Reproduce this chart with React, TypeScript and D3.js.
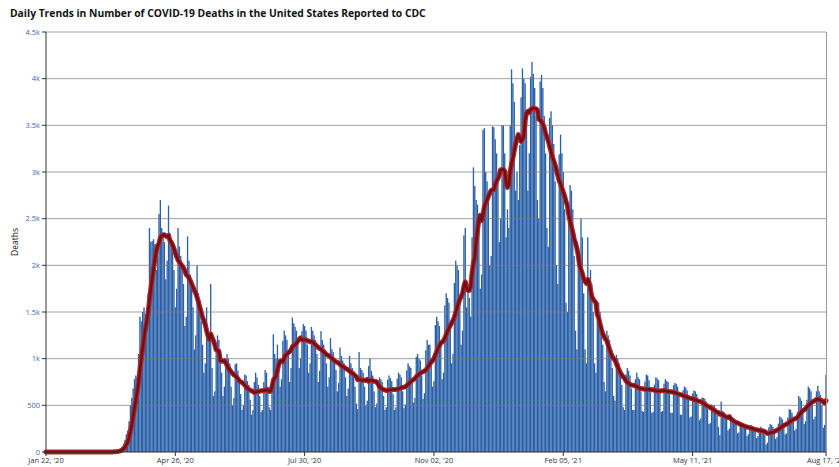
import React from "react";
import * as d3 from "d3";

const title = "Daily Trends in Number of COVID-19 Deaths in the United States Reported to CDC";
const yAxisTitle = "Deaths";
const startDate = "2020-01-22";

// daily deaths, Jan 22 2020 .. Aug 17 2021 (rows = Wed..Tue)
const dailyDeaths: number[] = [
  0,0,0,0,0,0,0,
  0,0,0,0,0,0,0,
  0,0,0,0,0,0,0,
  0,0,0,0,0,0,0,
  0,0,0,0,0,0,0,
  0,0,0,0,0,0,0,
  0,1,0,1,1,0,2,
  4,6,8,10,14,22,35,
  60,90,130,190,230,330,500,
  580,680,780,820,800,1050,1450,
  1400,1500,1550,1480,1350,1700,2400,
  2250,2260,2280,2230,1950,2100,2550,
  2700,2400,2350,2250,1850,2050,2640,
  2350,2250,2150,1950,1550,1750,2400,
  2200,2100,2000,1800,1350,1450,2310,
  2050,1900,1750,1550,1100,1250,2000,
  1700,1500,1400,1150,850,950,1550,
  1300,1250,1800,900,600,650,1160,
  1250,1200,1100,850,600,700,1000,
  1050,1000,950,700,500,580,940,
  950,870,800,620,450,500,830,
  820,760,720,560,400,450,750,
  850,800,720,600,430,450,750,
  880,850,700,480,450,750,1260,
  1050,1000,1150,900,700,780,1190,
  1300,1250,1200,1050,750,900,1440,
  1380,1340,1300,1200,900,1000,1295,
  1370,1350,1300,1150,850,950,1340,
  1300,1250,1200,1050,750,870,1295,
  1200,1150,1100,950,700,800,1220,
  1100,1070,1000,880,650,740,1120,
  1030,980,950,800,600,680,1030,
  950,900,870,700,520,460,1070,
  900,880,850,700,500,550,920,
  1000,870,820,650,480,520,750,
  800,780,750,600,450,480,775,
  820,790,760,620,450,480,785,
  850,830,800,650,470,510,875,
  950,920,900,750,530,580,1020,
  1050,1000,980,820,570,630,1090,
  1200,1150,1150,950,700,760,1360,
  1450,1400,1350,1150,780,850,1570,
  1700,1650,1600,1350,950,1050,1810,
  2050,2000,1950,1650,1150,1300,2320,
  2400,1550,1750,1650,1450,2300,3050,
  2850,2700,2650,2450,1750,1900,3450,
  3470,3000,2900,2700,2000,2100,3490,
  3480,3350,3200,2900,2250,2500,3500,
  3500,3200,2300,2600,2400,3500,4100,
  3950,3750,2800,3000,2700,3290,3800,
  4110,4000,3950,3600,2800,3200,4020,
  4180,4050,3900,3600,2700,2500,3970,
  4040,3900,3600,3200,2400,2200,3580,
  3650,3500,3300,2900,2000,1800,3190,
  3400,3200,3000,2600,1600,1500,2520,
  2860,2800,2600,2100,1300,1100,1990,
  2100,2500,2300,1700,1100,950,2300,
  1850,1950,1800,1500,950,850,1410,
  1600,1500,1400,1150,750,650,1300,
  1250,1200,1100,900,600,550,1040,
  1000,950,900,720,480,450,830,
  900,870,820,680,450,450,780,
  850,800,780,650,440,430,755,
  830,820,770,640,420,430,722,
  800,790,770,650,430,440,732,
  780,760,750,640,420,420,716,
  740,730,700,600,400,400,661,
  700,690,660,560,370,380,630,
  660,650,620,520,340,360,585,
  580,570,540,460,300,310,510,
  500,500,470,400,270,180,540,
  440,430,410,350,230,250,390,
  360,350,340,290,200,210,316,
  320,310,300,250,170,190,278,
  290,280,260,220,150,170,245,
  270,260,250,180,80,100,265,
  300,290,270,220,140,160,305,
  380,370,350,290,190,200,370,
  460,450,420,350,230,250,430,
  600,580,550,460,300,330,560,
  700,680,650,540,350,380,650,
  710,650,610,500,260,290,825,
];

const xTickDates = ["2020-01-22", "2020-04-26", "2020-07-30", "2020-11-02", "2021-02-05", "2021-05-11", "2021-08-17"];
const xTickLabels = ["Jan 22, '20", "Apr 26, '20", "Jul 30, '20", "Nov 02, '20", "Feb 05, '21", "May 11, '21", "Aug 17, '21"];
const yTickValues = [0, 500, 1000, 1500, 2000, 2500, 3000, 3500, 4000, 4500];
const yTickLabels = ["0", "500", "1k", "1.5k", "2k", "2.5k", "3k", "3.5k", "4k", "4.5k"];

const W = 839;
const H = 467;
const M = { left: 46, right: 826, top: 32, bottom: 452 };

export default function App() {
  const parse = d3.utcParse("%Y-%m-%d");
  const t0 = parse(startDate) as Date;
  const dates = dailyDeaths.map((_, i) => d3.utcDay.offset(t0, i));
  const x = d3.scaleUtc().domain([dates[0], dates[dates.length - 1]]).range([M.left, M.right]);
  const y = d3.scaleLinear().domain([0, 4500]).range([M.bottom, M.top]);
  const step = x(dates[1]) - x(dates[0]);
  const bw = step * 0.97;

  const avg = dailyDeaths.map((_, i) => {
    const s = dailyDeaths.slice(Math.max(0, i - 6), i + 1);
    return d3.mean(s) as number;
  });
  const line = d3
    .line<number>()
    .x((_, i) => x(dates[i]))
    .y((v) => y(v));
  const linePath = line(avg) || "";

  const font = "'Open Sans', 'Noto Sans', sans-serif";

  return (
    <svg width={W} height={H} style={{ position: "absolute", left: 0, top: 0, background: "#fff" }}>
      <text x={10} y={17} fontFamily={font} fontWeight={700} fontSize={10.3} fill="#111">
        {title}
      </text>
      <text
        transform={`translate(18,${(M.top + M.bottom) / 2}) rotate(-90)`}
        textAnchor="middle"
        fontFamily={font}
        fontSize={8.5}
        fill="#111"
      >
        {yAxisTitle}
      </text>
      <g>
        {dailyDeaths.map((v, i) => (
          <rect
            key={i}
            x={x(dates[i]) - bw / 2}
            y={y(v)}
            width={bw}
            height={M.bottom - y(v)}
            fill="#2a60a8"
          />
        ))}
      </g>
      <g>
        {yTickValues.map((v) =>
          v === 0 ? null : (
            <line key={v} x1={M.left} x2={M.right} y1={y(v)} y2={y(v)} stroke="#777" strokeOpacity={0.7} strokeWidth={1} />
          )
        )}
      </g>
      <path d={linePath} fill="none" stroke="#b3282e" strokeWidth={5} strokeLinejoin="round" strokeLinecap="round" />
      <path d={linePath} fill="none" stroke="#6e1116" strokeWidth={2.6} strokeLinejoin="round" strokeLinecap="round" />
      <line x1={M.right + 0.5} x2={M.right + 0.5} y1={M.top} y2={M.bottom} stroke="#999" strokeWidth={1} />
      <line x1={M.left} x2={M.left} y1={M.top} y2={M.bottom} stroke="#333" strokeWidth={1} />
      {yTickValues.map((v, i) => (
        <g key={v}>
          <line x1={M.left - 4} x2={M.left} y1={y(v)} y2={y(v)} stroke="#333" />
          <text x={M.left - 6} y={y(v)} dy="0.35em" textAnchor="end" fontFamily={font} fontSize={7.5} fill="#3a67b0">
            {yTickLabels[i]}
          </text>
        </g>
      ))}
      <line x1={M.left} x2={M.right} y1={M.bottom} y2={M.bottom} stroke="#333" strokeWidth={1} />
      {xTickDates.map((s, i) => {
        const px = x(parse(s) as Date);
        return (
          <g key={s}>
            <line x1={px} x2={px} y1={M.bottom} y2={M.bottom + 4} stroke="#333" />
            <text x={px} y={M.bottom + 11} textAnchor="middle" fontFamily={font} fontSize={7.5} fill="#333">
              {xTickLabels[i]}
            </text>
          </g>
        );
      })}
    </svg>
  );
}
